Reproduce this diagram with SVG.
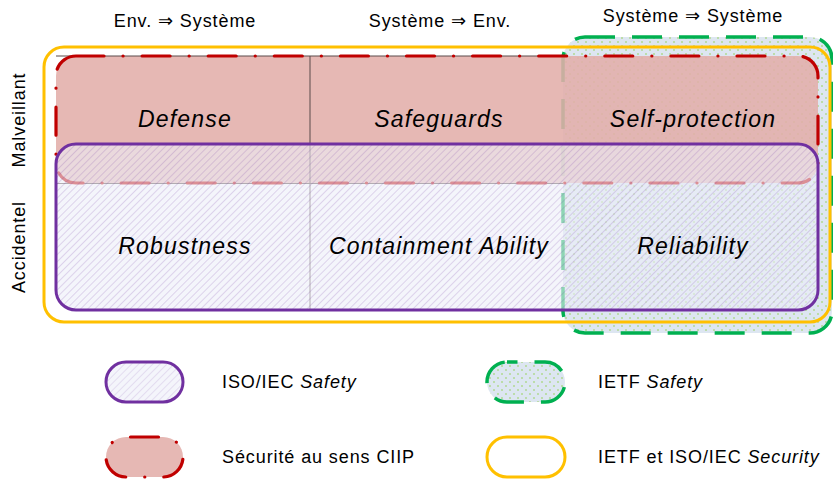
<svg xmlns="http://www.w3.org/2000/svg" width="833" height="482" viewBox="0 0 833 482">
<defs>
<pattern id="dots" patternUnits="userSpaceOnUse" width="8" height="8">
<rect width="8" height="8" fill="#dde6f1"/>
<circle cx="2" cy="2" r="0.8" fill="#92d050"/>
<circle cx="6" cy="6" r="0.8" fill="#92d050"/>
</pattern>
<pattern id="hatch" patternUnits="userSpaceOnUse" width="5" height="5" patternTransform="rotate(45)">
<line x1="0" y1="0" x2="0" y2="5" stroke="#7030a0" stroke-width="0.9" stroke-opacity="0.4"/>
</pattern>
<style>
.lbl{font-family:"Liberation Sans",Arial,sans-serif;font-size:23px;letter-spacing:1.2px;font-style:italic;fill:#000;text-anchor:middle}
.hdr{font-family:"Liberation Sans",Arial,"DejaVu Sans",sans-serif;font-size:18px;letter-spacing:0.9px;fill:#000;text-anchor:middle}
.leg{font-family:"Liberation Sans",Arial,sans-serif;font-size:18px;letter-spacing:0.9px;fill:#000}
.grid{stroke:#5a4a4a;stroke-width:1;fill:none}
.green{fill:url(#dots);stroke:#00b050;stroke-width:3.5;stroke-dasharray:30 17}
.red{fill:#e2aeaa;fill-opacity:0.88;stroke:none}
.redline{fill:none;stroke:#c00000;stroke-width:3.2;stroke-linecap:round;stroke-dasharray:28 19 0.1 19}
.purfill{fill:#eceef8;fill-opacity:0.6}
.purhatch{fill:url(#hatch)}
.purline{fill:none;stroke:#7030a0;stroke-width:3}
.yellow{fill:none;stroke:#ffc000;stroke-width:3}
</style>
</defs>

<g id="headers">
<text class="hdr" x="185" y="27">Env. ⇒ Système</text>
<text class="hdr" x="440" y="27">Système ⇒ Env.</text>
<text class="hdr" x="693" y="22">Système ⇒ Système</text>
<text class="hdr" transform="translate(25,120) rotate(-90)">Malveillant</text>
<text class="hdr" transform="translate(25,247) rotate(-90)">Accidentel</text>
</g>

<g id="ietf-safety">
<rect class="green" x="563" y="37" width="269" height="296" rx="22"/>
</g>

<g id="ciip-security">
<rect class="red" x="56" y="56" width="762" height="127" rx="20"/>
</g>

<g id="grid">
<line class="grid" x1="56" y1="56" x2="563" y2="56"/>
<line class="grid" x1="56" y1="183.5" x2="563" y2="183.5"/>
<line class="grid" x1="310" y1="56" x2="310" y2="310"/>
</g>

<g id="ciip-border">
<rect class="redline" x="56" y="56" width="762" height="127" rx="20"/>
</g>

<g id="iso-safety">
<rect class="purfill" x="56" y="144" width="762" height="166" rx="20"/>
<rect class="purhatch" x="56" y="144" width="762" height="166" rx="20"/>
<rect class="purline" x="56" y="144" width="762" height="166" rx="20"/>
</g>

<g id="security">
<rect class="yellow" x="44" y="47" width="786" height="275" rx="20"/>
</g>

<g id="cells">
<text class="lbl" x="185" y="127">Defense</text>
<text class="lbl" x="439" y="127">Safeguards</text>
<text class="lbl" x="693" y="127">Self-protection</text>
<text class="lbl" x="185" y="254">Robustness</text>
<text class="lbl" x="439" y="254">Containment Ability</text>
<text class="lbl" x="693" y="254">Reliability</text>
</g>

<g id="connectors"/>

<g id="legend-iso-safety">
<rect class="purfill" x="106" y="362" width="77" height="40" rx="20"/>
<rect class="purhatch" x="106" y="362" width="77" height="40" rx="20" opacity="0.7"/>
<rect class="purline" x="106" y="362" width="77" height="40" rx="20"/>
<text class="leg" x="222" y="388">ISO/IEC <tspan font-style="italic">Safety</tspan></text>
</g>

<g id="legend-ciip">
<rect class="red" x="106" y="437" width="77" height="40" rx="20"/>
<rect class="redline" x="106" y="437" width="77" height="40" rx="20" stroke-dashoffset="-4.5"/>
<text class="leg" x="222" y="463">Sécurité au sens CIIP</text>
</g>

<g id="legend-ietf-safety">
<rect class="green" x="487" y="362" width="78" height="40" rx="20" stroke-dashoffset="-27.5"/>
<text class="leg" x="598" y="388">IETF <tspan font-style="italic">Safety</tspan></text>
</g>

<g id="legend-security">
<rect class="yellow" x="487" y="437" width="78" height="40" rx="20"/>
<text class="leg" x="598" y="463">IETF et ISO/IEC <tspan font-style="italic">Security</tspan></text>
</g>
</svg>
